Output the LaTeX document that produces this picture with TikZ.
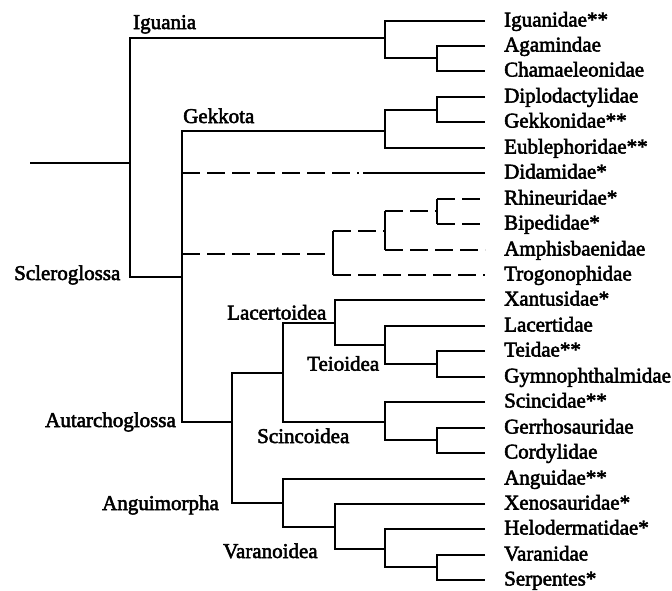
\documentclass[tikz,border=0pt]{standalone}
\usepackage{fontspec}
\setmainfont{Liberation Serif}
\newfontfamily\labfont{Liberation Serif}[FakeBold=2.5]
\begin{document}
\begin{tikzpicture}[x=1pt,y=-1pt,
  branch/.style={line width=1.9pt,line cap=butt,line join=miter},
  dline/.style={branch,dash pattern=on 18pt off 7pt},
  leaf/.style={anchor=base west,inner sep=0pt,font=\labfont\fontsize{21}{25}\selectfont},
  clade/.style={anchor=base west,inner sep=0pt,font=\labfont\fontsize{21}{25}\selectfont}]
\useasboundingbox (0,0) rectangle (672,590);
% leaf ends and labels
\foreach \i/\t in {0/Iguanidae**,1/Agamindae,2/Chamaeleonidae,3/Diplodactylidae,4/Gekkonidae**,5/Eublephoridae**,6/Didamidae*,7/Rhineuridae*,8/Bipedidae*,9/Amphisbaenidae,10/Trogonophidae,11/Xantusidae*,12/Lacertidae,13/Teidae**,14/Gymnophthalmidae,15/Scincidae**,16/Gerrhosauridae,17/Cordylidae,18/Anguidae**,19/Xenosauridae*,20/Helodermatidae*,21/Varanidae,22/Serpentes*}{
  \pgfmathsetmacro\yy{round(20.5+25.45*\i)}
  \coordinate (e\i) at (485,\yy);
  \node[leaf] (l\i) at (504,\yy+5.5) {\t};
}
% internal nodes
\coordinate (root0) at (30,163);
\coordinate (root) at (130,163);
\coordinate (iguania) at (385,38);
\coordinate (igAC) at (437,58);
\coordinate (gDG) at (437,110);
\coordinate (gekkota) at (385,131);
\coordinate (sclero) at (182,277);
\coordinate (dsplit) at (359,173);
\coordinate (dsolid) at (363,173);
\coordinate (amphRB) at (437,211);
\coordinate (amphA) at (385,231);
\coordinate (amph) at (333,254);
\coordinate (autarch) at (232,422);
\coordinate (LS) at (283,373);
\coordinate (lacert) at (335,323);
\coordinate (teio) at (385,345);
\coordinate (tTG) at (437,364);
\coordinate (scinc) at (385,422);
\coordinate (sGC) at (437,440);
\coordinate (angui) at (283,503);
\coordinate (varan) at (335,527);
\coordinate (vHV) at (385,549);
\coordinate (vVS) at (437,567);
% solid branches
\draw[branch] (root0) -- (root);
\draw[branch] (iguania) -| (root) |- (sclero);
\draw[branch] (e0) -| (iguania) |- (igAC);
\draw[branch] (e1) -| (igAC) |- (e2);
\draw[branch] (gDG) -| (gekkota) |- (e5);
\draw[branch] (e3) -| (gDG) |- (e4);
\draw[branch] (gekkota) -| (sclero) |- (autarch);
\draw[branch] (LS) -| (autarch) |- (angui);
\draw[branch] (lacert) -| (LS) |- (scinc);
\draw[branch] (e11) -| (lacert) |- (teio);
\draw[branch] (e12) -| (teio) |- (tTG);
\draw[branch] (e13) -| (tTG) |- (e14);
\draw[branch] (e15) -| (scinc) |- (sGC);
\draw[branch] (e16) -| (sGC) |- (e17);
\draw[branch] (e18) -| (angui) |- (varan);
\draw[branch] (e19) -| (varan) |- (vHV);
\draw[branch] (e20) -| (vHV) |- (vVS);
\draw[branch] (e21) -| (vVS) |- (e22);
% Didamidae
\draw[dline] (sclero |- dsplit) -- (dsplit);
\draw[branch] (dsolid) -- (e6);
% Amphisbaenia (dashed horizontals, solid verticals)
\draw[dline] (sclero |- amph) -- (amph);
\draw[branch] (amph |- amphA) -- (amph |- e10);
\draw[dline] (amph |- amphA) -- (amphA);
\draw[dline] (amph |- e10) -- (e10);
\draw[branch] (amphA |- amphRB) -- (amphA |- e9);
\draw[dline] (amphA |- amphRB) -- (amphRB);
\draw[dline] (amphA |- e9) -- (e9);
\draw[branch] (amphRB |- e7) -- (amphRB |- e8);
\draw[dline] (amphRB |- e7) -- (e7);
\draw[dline] (amphRB |- e8) -- (e8);
% clade labels
\node[clade] (tIguania) at (133,29) {Iguania};
\node[clade] (tGekkota) at (183,123) {Gekkota};
\node[clade] (tSclero) at (14,280) {Scleroglossa};
\node[clade] (tLacert) at (227,319.5) {Lacertoidea};
\node[clade] (tTeio) at (307,370.7) {Teioidea};
\node[clade] (tAutarch) at (45,427) {Autarchoglossa};
\node[clade] (tScinc) at (257,443) {Scincoidea};
\node[clade] (tAngui) at (102,510) {Anguimorpha};
\node[clade] (tVaran) at (223,558) {Varanoidea};
\end{tikzpicture}
\end{document}
